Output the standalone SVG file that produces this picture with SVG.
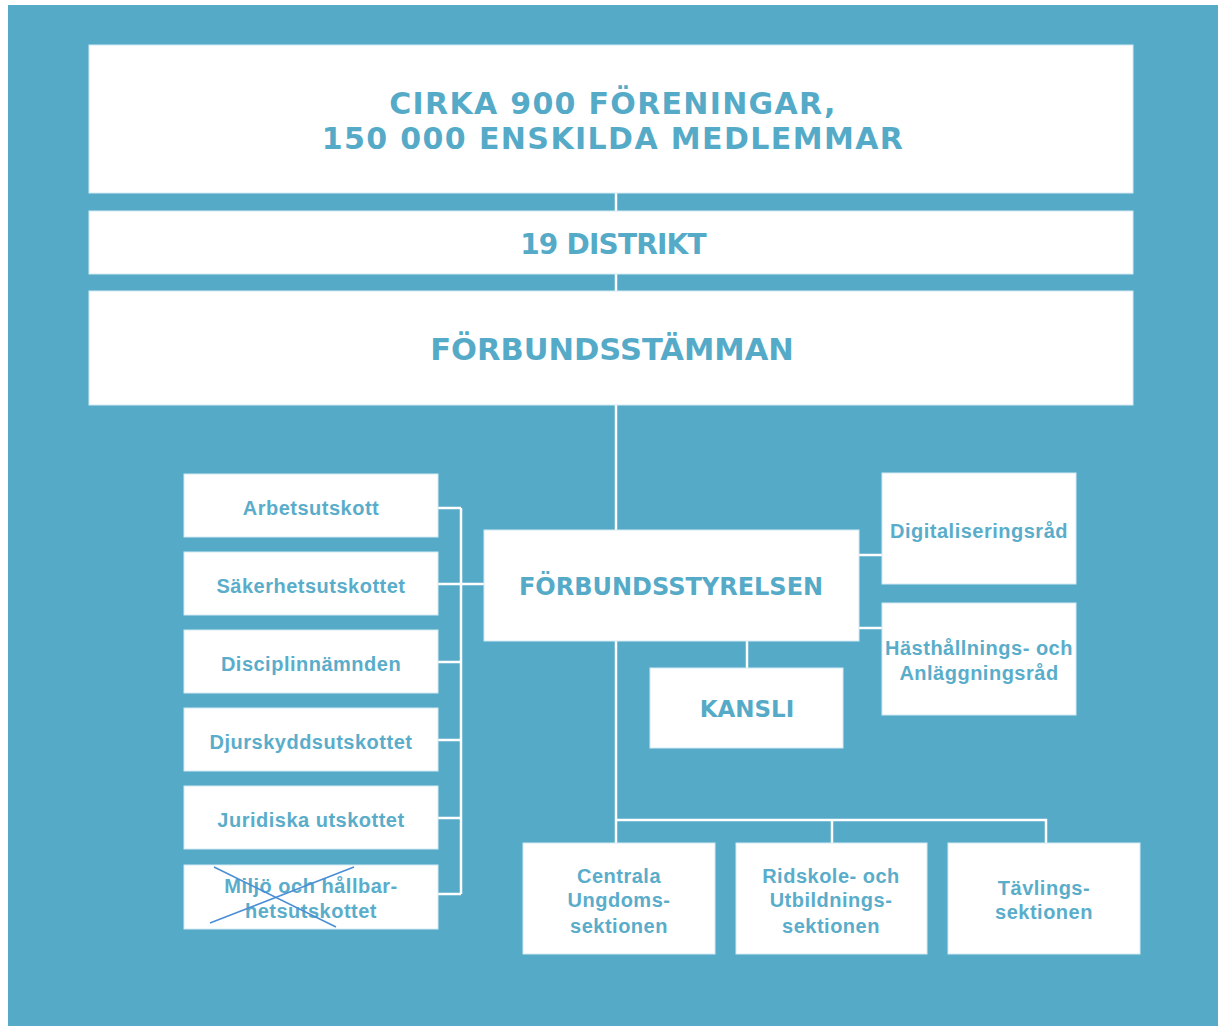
<svg xmlns="http://www.w3.org/2000/svg" width="1218" height="1026" viewBox="0 0 1218 1026">
<style>
.box{fill:#ffffff;stroke:#d4eaf2;stroke-width:1}
.conn{stroke:#ffffff;stroke-width:2.5;fill:none}
.big{font-family:"DejaVu Sans","Liberation Sans",Arial,sans-serif;font-weight:bold;fill:#55aac8;text-anchor:middle}
.sm{font-family:"Liberation Sans",Arial,sans-serif;font-weight:bold;fill:#5aadca;text-anchor:middle;font-size:20px;letter-spacing:0.5px}
.cross{stroke:#4a8ed6;stroke-width:1.5}
</style>
<rect x="0" y="0" width="1218" height="1026" fill="#ffffff"/>
<rect x="8" y="5" width="1210" height="1021" fill="#55aac8"/>
<g id="connectors">
<line class="conn" x1="616" y1="193" x2="616" y2="211"/>
<line class="conn" x1="616" y1="274" x2="616" y2="291"/>
<line class="conn" x1="616" y1="405" x2="616" y2="530"/>
<line class="conn" x1="616" y1="641" x2="616" y2="843"/>
<polyline class="conn" points="616,820 1046,820 1046,843"/>
<line class="conn" x1="832" y1="820" x2="832" y2="843"/>
<line class="conn" x1="747" y1="641" x2="747" y2="668"/>
<line class="conn" x1="859" y1="555" x2="882" y2="555"/>
<line class="conn" x1="859" y1="628" x2="882" y2="628"/>
<line class="conn" x1="461" y1="508" x2="461" y2="894"/>
<line class="conn" x1="438" y1="508" x2="461" y2="508"/>
<line class="conn" x1="438" y1="584" x2="484" y2="584"/>
<line class="conn" x1="438" y1="662" x2="461" y2="662"/>
<line class="conn" x1="438" y1="740" x2="461" y2="740"/>
<line class="conn" x1="438" y1="818" x2="461" y2="818"/>
<line class="conn" x1="438" y1="894" x2="461" y2="894"/>
</g>
<g id="n-foreningar">
<rect class="box" x="89" y="45" width="1044" height="148"/>
<text class="big" x="613" y="114" font-size="30" letter-spacing="1.3">CIRKA 900 FÖRENINGAR,</text>
<text class="big" x="613" y="149" font-size="30" letter-spacing="1.4">150 000 ENSKILDA MEDLEMMAR</text>
</g>
<g id="n-distrikt">
<rect class="box" x="89" y="211" width="1044" height="63"/>
<text class="big" x="613" y="254" font-size="28" letter-spacing="-0.8">19 DISTRIKT</text>
</g>
<g id="n-stamman">
<rect class="box" x="89" y="291" width="1044" height="114"/>
<text class="big" x="612" y="360" font-size="30.5">FÖRBUNDSSTÄMMAN</text>
</g>
<g id="n-styrelsen">
<rect class="box" x="484" y="530" width="375" height="111"/>
<text class="big" x="671" y="595" font-size="24">FÖRBUNDSSTYRELSEN</text>
</g>
<g id="n-kansli">
<rect class="box" x="650" y="668" width="193" height="80"/>
<text class="big" x="747" y="717" font-size="23">KANSLI</text>
</g>
<g id="n-arbetsutskott">
<rect class="box" x="184" y="474" width="254" height="63"/>
<text class="sm" x="311" y="515">Arbetsutskott</text>
</g>
<g id="n-sakerhet">
<rect class="box" x="184" y="552" width="254" height="63"/>
<text class="sm" x="311" y="593">Säkerhetsutskottet</text>
</g>
<g id="n-disciplin">
<rect class="box" x="184" y="630" width="254" height="63"/>
<text class="sm" x="311" y="671">Disciplinnämnden</text>
</g>
<g id="n-djurskydd">
<rect class="box" x="184" y="708" width="254" height="63"/>
<text class="sm" x="311" y="749">Djurskyddsutskottet</text>
</g>
<g id="n-juridiska">
<rect class="box" x="184" y="786" width="254" height="63"/>
<text class="sm" x="311" y="827">Juridiska utskottet</text>
</g>
<g id="n-miljo">
<rect class="box" x="184" y="865" width="254" height="64"/>
<text class="sm" x="311" y="893">Miljö och hållbar-</text>
<text class="sm" x="311" y="918">hetsutskottet</text>
<line class="cross" x1="214" y1="867" x2="336" y2="927"/>
<line class="cross" x1="354" y1="867" x2="210" y2="923"/>
</g>
<g id="n-digital">
<rect class="box" x="882" y="473" width="194" height="111"/>
<text class="sm" x="979" y="538">Digitaliseringsråd</text>
</g>
<g id="n-hasthallning">
<rect class="box" x="882" y="603" width="194" height="112"/>
<text class="sm" x="979" y="655">Hästhållnings- och</text>
<text class="sm" x="979" y="680">Anläggningsråd</text>
</g>
<g id="n-ungdom">
<rect class="box" x="523" y="843" width="192" height="111"/>
<text class="sm" x="619" y="883">Centrala</text>
<text class="sm" x="619" y="907">Ungdoms-</text>
<text class="sm" x="619" y="933">sektionen</text>
</g>
<g id="n-ridskole">
<rect class="box" x="736" y="843" width="191" height="111"/>
<text class="sm" x="831" y="883">Ridskole- och</text>
<text class="sm" x="831" y="907">Utbildnings-</text>
<text class="sm" x="831" y="933">sektionen</text>
</g>
<g id="n-tavling">
<rect class="box" x="948" y="843" width="192" height="111"/>
<text class="sm" x="1044" y="895">Tävlings-</text>
<text class="sm" x="1044" y="919">sektionen</text>
</g>
</svg>
